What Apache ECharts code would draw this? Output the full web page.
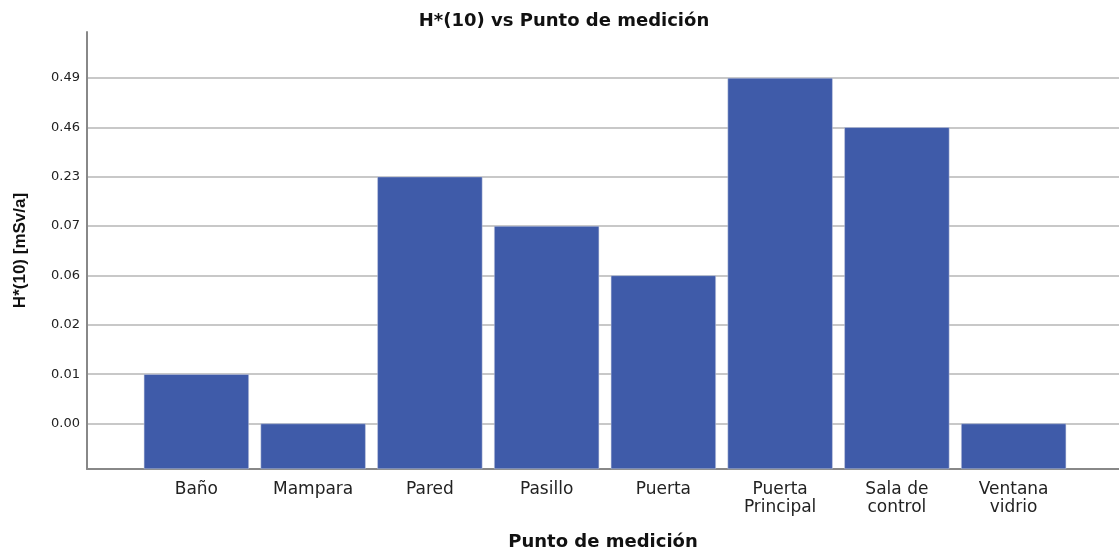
<!DOCTYPE html>
<html>
<head>
<meta charset="utf-8">
<script src="https://cdn.jsdelivr.net/npm/echarts@6/dist/echarts.min.js"></script>
<style>
  html, body { margin: 0; padding: 0; background: #fff; }
  #chart { width: 1119px; height: 552px; }
</style>
</head>
<body>
<div id="chart"></div>
<script>
// datos
const categories = ['Baño', 'Mampara', 'Pared', 'Pasillo', 'Puerta', 'Puerta\nPrincipal', 'Sala de\ncontrol', 'Ventana\nvidrio'];
const values = ['0.01', '0.00', '0.23', '0.07', '0.06', '0.49', '0.46', '0.00'];
// eje Y ordinal (SPSS trata los valores como categorías)
const tickLabels = ['0.00', '0.01', '0.02', '0.06', '0.07', '0.23', '0.46', '0.49'];

const base = 0.92;   // hueco bajo el primer nivel
const yMax = 8.85;
const tickPos = tickLabels.map((t, i) => base + i);
const barData = values.map(v => base + tickLabels.indexOf(v));

const chart = echarts.init(document.getElementById('chart'));
const font = 'DejaVu Sans, Verdana, sans-serif';
const fontB = 'Liberation Sans, Arial, sans-serif';

chart.setOption({
    animation: false,
    title: {
        text: 'H*(10) vs Punto de medición',
        left: 559,
        textAlign: 'center',
        top: 7,
        textStyle: { fontFamily: font, fontSize: 18, fontWeight: 'bold', color: '#111' }
    },
    grid: [
        { left: 87, right: 0, top: 32, bottom: 83, outerBoundsMode: 'none' },
        { left: 138, right: 47, top: 32, bottom: 83, outerBoundsMode: 'none' }
    ],
    xAxis: [
        {
            gridIndex: 0,
            type: 'value',
            min: 0,
            max: 1,
            name: 'Punto de medición',
            nameLocation: 'middle',
            nameGap: 64,
            nameTextStyle: { fontFamily: font, fontSize: 18, fontWeight: 'bold', color: '#111' },
            axisLine: { show: true, lineStyle: { color: '#888', width: 2 } },
            axisTick: { show: false },
            axisLabel: { show: false },
            splitLine: { show: false }
        },
        {
            gridIndex: 1,
            type: 'category',
            data: categories,
            axisLine: { show: false },
            axisTick: { show: false },
            axisLabel: {
                margin: 12,
                fontFamily: font,
                fontSize: 17,
                lineHeight: 18,
                color: '#222'
            }
        }
    ],
    yAxis: [
        {
            gridIndex: 0,
            type: 'value',
            min: 0,
            max: yMax,
            name: 'H*(10) [mSv/a]',
            nameLocation: 'middle',
            nameGap: 58,
            nameRotate: 90,
            nameTextStyle: { fontFamily: fontB, fontSize: 17, fontWeight: 'bold', color: '#111' },
            axisLine: { show: true, lineStyle: { color: '#888', width: 2 } },
            axisTick: { show: false, customValues: tickPos },
            axisLabel: {
                customValues: tickPos,
                formatter: v => tickLabels[Math.round(v - base)],
                fontFamily: font,
                fontSize: 13,
                color: '#222',
                margin: 7
            },
            splitLine: { show: true, lineStyle: { color: '#c8c8c8', width: 2 } }
        },
        {
            gridIndex: 1,
            type: 'value',
            min: 0,
            max: yMax,
            show: false,
            splitLine: { show: false }
        }
    ],
    series: [
        {
            type: 'bar',
            xAxisIndex: 1,
            yAxisIndex: 1,
            data: barData,
            barCategoryGap: '10%',
            z: 5,
            itemStyle: { color: '#3f5ba9', borderColor: '#c9cfe0', borderWidth: 0.5 }
        }
    ]
});
</script>
</body>
</html>
